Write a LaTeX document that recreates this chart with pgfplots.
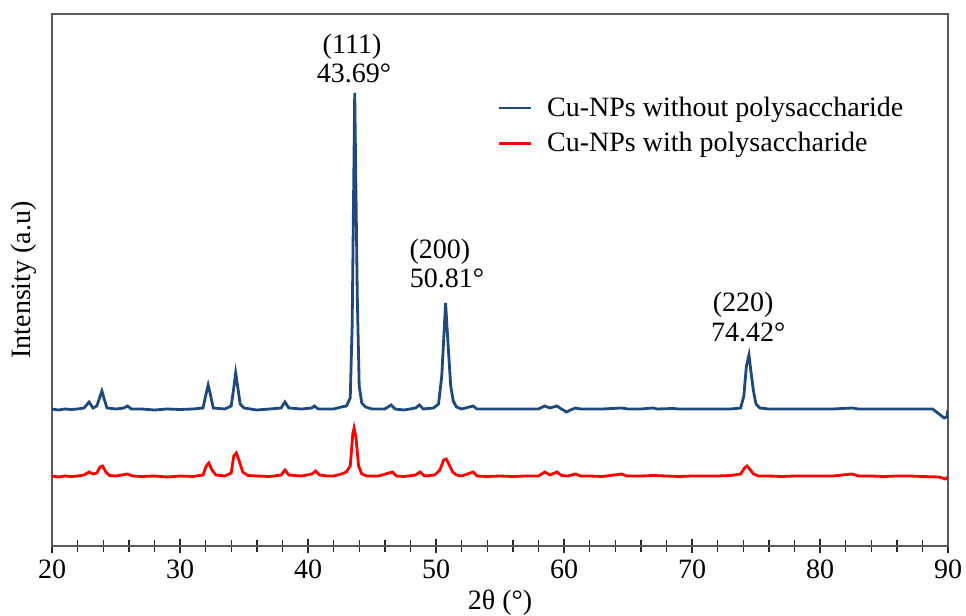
\documentclass[border=0pt]{standalone}
\usepackage{fontspec}
\setmainfont{Liberation Serif}
\usepackage{pgfplots}
\pgfplotsset{compat=1.18}
\definecolor{xrdblue}{RGB}{31,73,125}
\definecolor{xrdred}{RGB}{255,0,0}
\definecolor{axgray}{RGB}{90,90,90}
\definecolor{tickgray}{RGB}{40,40,40}

\begin{document}
\begin{tikzpicture}[font=\fontsize{14bp}{17bp}\selectfont]
\begin{axis}[
    scale only axis,
    width=448bp, height=266bp,
    xmin=20, xmax=90,
    ymin=0, ymax=532,
    xtick={20,30,...,90},
    minor xtick={22,24,...,88},
    ytick=\empty,
    xtick pos=bottom,
    xtick align=center,
    major tick length=7bp,
    minor tick length=5.5bp,
    xtick style={tickgray, line width=0.7bp},
    axis line style={axgray, line width=0.9bp},
    /pgf/number format/assume math mode=true,
    xticklabel style={inner xsep=0pt},
    xlabel={2θ (°)},
    xlabel style={at={(axis description cs:0.5,0)}, anchor=center, inner sep=0pt, yshift=-28.5bp},
    ylabel={Intensity (a.u)},
    ylabel style={at={(axis description cs:-0.031,0.5)}, anchor=center, inner sep=0pt},
    legend style={draw=none, fill=none, at={(0.49,0.86)}, anchor=north west,
        row sep=2.5bp, font=\fontsize{14bp}{17bp}\selectfont},
    legend cell align=left,
    legend image code/.code={\draw[#1] (0bp,0bp) -- (16bp,0bp); \path (21.5bp,0bp);},
]

% Cu-NPs without polysaccharide
\addplot[xrdblue, line width=1.4bp] coordinates {
(20.0,137) (20.5,136) (21.0,137) (21.5,136.5) (22.0,137) (22.5,138) (22.9,144)
(23.2,138) (23.5,140) (23.9,155) (24.1,146) (24.3,138) (25.0,137) (25.6,138)
(25.9,140) (26.2,137) (27,137) (28,136) (29,137) (30,136.5) (31,137) (31.8,138)
(32.0,150) (32.2,161) (32.4,150) (32.6,138) (33.5,137) (34.0,140) (34.2,158)
(34.35,173) (34.5,160) (34.7,142) (35.0,138) (35.5,137) (36,136) (37,137)
(37.9,138) (38.2,144) (38.5,138) (39.5,137) (40.3,138) (40.5,140) (40.8,137)
(41.5,137) (42.0,137) (42.6,139) (43.0,140) (43.3,148) (43.45,220) (43.65,453)
(43.85,250) (44.0,160) (44.2,143) (44.5,139) (45,137) (46,137) (46.5,141)
(46.8,137) (47.5,136) (48.4,138) (48.7,141) (49.0,137) (49.8,138) (50.2,142)
(50.45,170) (50.75,243) (50.95,200) (51.15,160) (51.35,145) (51.6,139) (52,137)
(52.9,140) (53.2,137) (54,137) (55,137) (56,137) (57,137) (58,137) (58.5,140)
(58.9,138) (59.45,140) (59.8,137) (60.2,134) (60.5,136) (60.9,138) (61.3,137)
(62,137) (63,137) (64.5,138) (65,137) (66,137) (66.95,138) (67.3,137)
(68.5,137.5) (69,137) (70,137) (71,137) (72,137) (73,137) (73.8,138)
(74.05,150) (74.25,180) (74.45,191) (74.6,175) (74.8,155) (75.0,142) (75.3,138)
(76,137) (77,137) (78,137) (79,137) (80,137) (81,137) (82.5,138) (83,137)
(84,137) (85,137) (86,137) (87,137) (88,137) (88.8,137) (89.2,133) (89.7,128)
(89.9,129) (90.0,136)
};
\addlegendentry{Cu-NPs without polysaccharide}

% Cu-NPs with polysaccharide
\addplot[xrdred, line width=1.4bp] coordinates {
(20.0,70) (20.5,69) (21.0,70) (21.5,69.5) (22,70) (22.5,71) (22.9,74) (23.2,72)
(23.5,73) (23.75,79) (23.95,80) (24.2,74) (24.5,70.5) (25.0,70) (25.9,72)
(26.3,70) (27,69.5) (28,70) (29,69) (30,70) (31,69.5) (31.8,71) (32.05,80)
(32.25,83) (32.5,76) (32.8,71) (33.5,70) (34.0,73) (34.2,90) (34.4,93)
(34.6,86) (34.9,74) (35.3,70.5) (36,70) (37,69.5) (37.9,71) (38.2,76)
(38.5,71) (39.5,70) (40.3,72) (40.6,75) (40.9,71) (41.5,70) (42,70) (42.6,72)
(43.0,74) (43.3,80) (43.5,112) (43.6,118) (43.75,108) (43.95,80) (44.2,72)
(44.6,70) (45.5,70) (46.6,74) (46.9,70) (47.5,69.5) (48.4,71) (48.75,74)
(49.1,70) (49.9,71) (50.3,76) (50.6,86) (50.8,87) (51.0,82) (51.3,74)
(51.6,71) (52,70) (52.9,74) (53.2,70) (54,69.5) (55,70) (56,69.5) (57,70)
(58,70) (58.5,74) (58.9,71) (59.45,74) (59.8,70.5) (60.3,70) (60.9,72)
(61.3,70) (62,70) (63,69.5) (64.5,72) (64.9,70) (66,70) (67,70.5) (68,70)
(69,69.5) (70,70) (71,70) (72,70) (73,70.5) (73.8,72) (74.1,78) (74.3,80)
(74.5,77) (74.8,72) (75.2,70) (76,70) (77,69.5) (78,70) (79,70) (80,70)
(81,70) (82.5,72) (83,70) (84,70) (85,69.5) (86,70) (87,70) (88,69.5)
(89.3,69) (89.8,67) (90,69)
};
\addlegendentry{Cu-NPs with polysaccharide}

\node at (axis cs:43.44,499) {(111)};
\node at (axis cs:43.6,473) {43.69°};
\node at (axis cs:50.3,294) {(200)};
\node at (axis cs:50.86,268) {50.81°};
\node at (axis cs:74.0,241) {(220)};
\node at (axis cs:74.4,214) {74.42°};

\coordinate (tl) at (rel axis cs:0,1);
\coordinate (br) at (rel axis cs:1,0);
\end{axis}
% page margins as in the reference
\path (tl) ++(-26bp,7bp);
\path (br) ++(9bp,-35bp);
\end{tikzpicture}
\end{document}
